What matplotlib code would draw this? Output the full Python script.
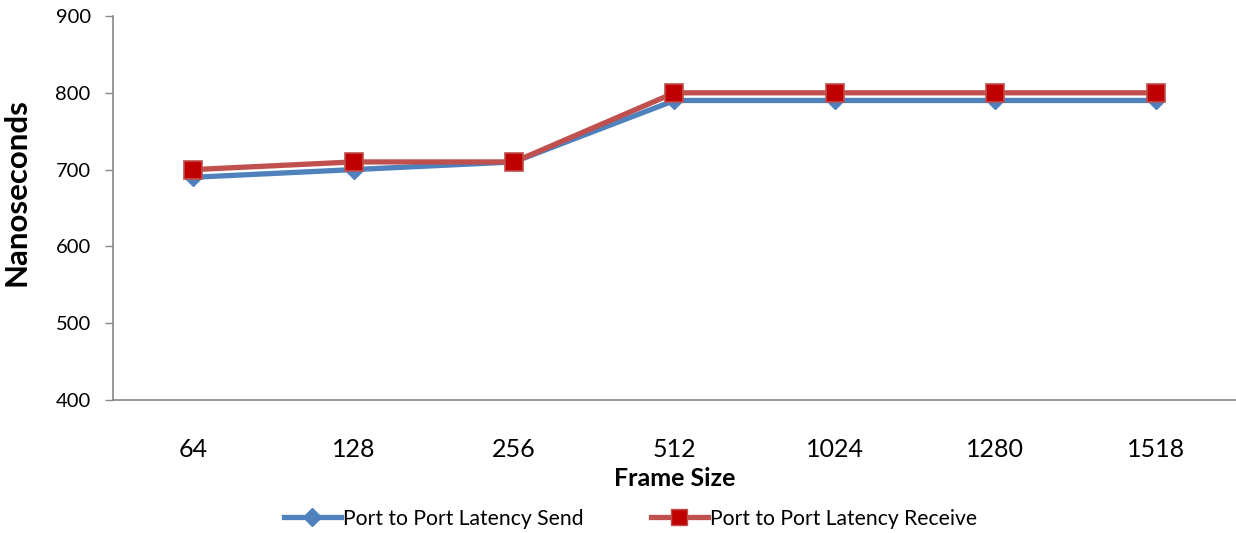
import matplotlib
matplotlib.use("Agg")
import matplotlib.pyplot as plt
from matplotlib.lines import Line2D

categories = ["64", "128", "256", "512", "1024", "1280", "1518"]
send = [690, 700, 710, 790, 790, 790, 790]
receive = [700, 710, 710, 800, 800, 800, 800]

plt.rcParams['font.family'] = ['Lato', 'DejaVu Sans']

fig = plt.figure(figsize=(12.36, 5.33), dpi=100)
ax = fig.add_axes([0.0914, 0.2495, 0.9086, 0.7205])

x = list(range(len(categories)))
ax.plot(x, send, color='#4F81BD', lw=3.8, marker='D', markersize=9,
        markerfacecolor='#4F81BD', markeredgecolor='#4F81BD', label='Port to Port Latency Send',
        solid_capstyle='butt')
ax.plot(x, receive, color='#C0504D', lw=3.8, marker='s', markersize=13,
        markerfacecolor='#C00000', markeredgecolor='#C0504D', markeredgewidth=1.2,
        label='Port to Port Latency Receive', solid_capstyle='butt')

ax.set_xlim(-0.5, len(categories) - 0.5)
ax.set_ylim(400, 900)
ax.set_yticks([400, 500, 600, 700, 800, 900])
ax.set_xticks(x)
ax.set_xticklabels(categories, fontsize=18)
ax.tick_params(axis='y', labelsize=14.5, length=6, color='#888888', width=1, pad=10)
ax.tick_params(axis='x', length=0, pad=27)

for s in ['top', 'right']:
    ax.spines[s].set_visible(False)
for s in ['left', 'bottom']:
    ax.spines[s].set_color('#888888')
    ax.spines[s].set_linewidth(1.2)

ax.set_ylabel('Nanoseconds', fontsize=22.5, fontweight='bold')
ax.yaxis.set_label_coords(-0.073, 0.542)
ax.set_xlabel('Frame Size', fontsize=18, fontweight='bold', labelpad=5)

handles = [
    Line2D([], [], color='#4F81BD', lw=3.8, marker='D', markersize=9,
           markerfacecolor='#4F81BD', markeredgecolor='#4F81BD'),
    Line2D([], [], color='#C0504D', lw=3.8, marker='s', markersize=11,
           markerfacecolor='#C00000', markeredgecolor='#C0504D'),
]
fig.legend(handles, ['Port to Port Latency Send', 'Port to Port Latency Receive'],
           loc='center', bbox_to_anchor=(0.51, 0.027), ncol=2, frameon=False,
           fontsize=15.2, handlelength=2.7, handletextpad=0.1, columnspacing=3.2)

fig.savefig('out.png', dpi=100)
